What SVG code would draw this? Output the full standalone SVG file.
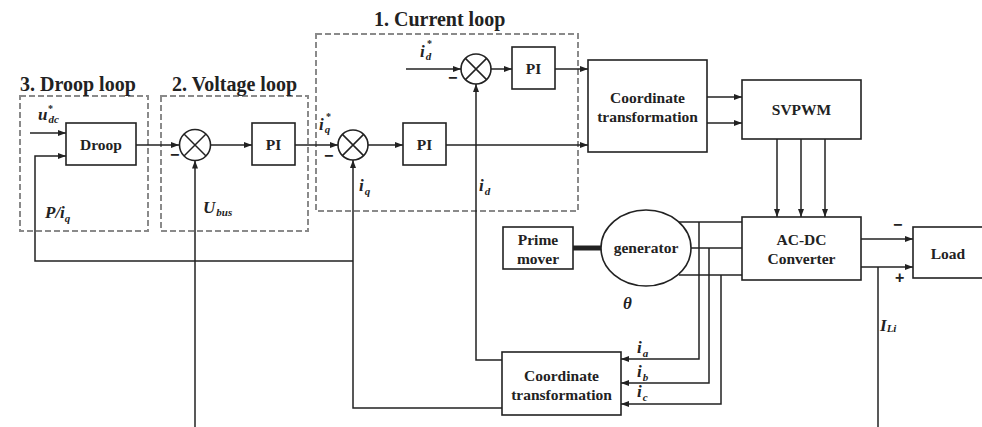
<svg xmlns="http://www.w3.org/2000/svg" width="982" height="427" viewBox="0 0 982 427">
  <defs>
    <marker id="arr" markerUnits="userSpaceOnUse" markerWidth="8" markerHeight="6" refX="8" refY="3" orient="auto">
      <path d="M0,0 L8,3 L0,6 z" fill="#222"/>
    </marker>
    <style>
      .blk { fill: #fff; stroke: #222; stroke-width: 1.6; }
      .loop { fill: none; stroke: #8a8a8a; stroke-width: 2; stroke-dasharray: 6 3; }
      .wire { fill: none; stroke: #222; stroke-width: 1.5; }
      .arw { marker-end: url(#arr); }
      .lbl { font-family: "Liberation Serif", "Times New Roman", serif; font-weight: bold; font-size: 15.5px; fill: #222; text-anchor: middle; }
      .ttl { font-family: "Liberation Serif", "Times New Roman", serif; font-weight: bold; font-size: 20px; fill: #222; }
      .m { font-family: "Liberation Serif", "Times New Roman", serif; font-weight: bold; font-style: italic; font-size: 17px; fill: #222; }
      .sub { font-size: 11px; }
      .sup { font-size: 10px; font-style: normal; }
      .sgn { font-family: "Liberation Sans", Arial, sans-serif; font-weight: bold; font-size: 16px; fill: #222; }
    </style>
  </defs>

  <!-- loop frames -->
  <g id="droop-loop">
    <rect class="loop" x="20" y="96" width="128" height="135"/>
    <text class="ttl" x="20" y="91">3. Droop loop</text>
  </g>
  <g id="voltage-loop">
    <rect class="loop" x="161" y="96" width="147" height="135"/>
    <text class="ttl" x="172" y="91">2. Voltage loop</text>
  </g>
  <g id="current-loop">
    <rect class="loop" x="316" y="34" width="262" height="177"/>
    <text class="ttl" x="374" y="26">1. Current loop</text>
  </g>

  <!-- connectors -->
  <g id="connectors">
    <path class="wire arw" d="M30,133 H66"/>
    <path class="wire arw" d="M353,261 H35 V156 H66"/>
    <path class="wire arw" d="M136,145 H179"/>
    <path class="wire arw" d="M210,145 H252"/>
    <path class="wire arw" d="M195,427 V160.5"/>
    <path class="wire arw" d="M295,145 H338"/>
    <path class="wire arw" d="M368,145 H403"/>
    <path class="wire arw" d="M446,145 H588"/>
    <path class="wire arw" d="M502,408 H353 V160"/>
    <path class="wire arw" d="M406,69 H461"/>
    <path class="wire arw" d="M491,69 H512"/>
    <path class="wire arw" d="M555,69 H588"/>
    <path class="wire arw" d="M502,360 H476 V84"/>
    <path class="wire arw" d="M707,97 H742"/>
    <path class="wire arw" d="M707,123 H742"/>
    <path class="wire arw" d="M777,139 V217"/>
    <path class="wire arw" d="M801,139 V217"/>
    <path class="wire arw" d="M825,139 V217"/>
    <line x1="573" y1="248" x2="602" y2="248" stroke="#222" stroke-width="5"/>
    <path class="wire" d="M679,222 H742"/>
    <path class="wire" d="M691,248 H742"/>
    <path class="wire" d="M679,275 H742"/>
    <path class="wire arw" d="M699,222 V359 H621"/>
    <path class="wire arw" d="M709,248 V383 H621"/>
    <path class="wire arw" d="M721,275 V404 H621"/>
    <path class="wire arw" d="M861,239 H913"/>
    <path class="wire arw" d="M861,267 H913"/>
    <path class="wire" d="M878,267 V427"/>
  </g>

  <!-- blocks -->
  <g id="droop">
    <rect class="blk" x="66" y="123" width="70" height="42"/>
    <text class="lbl" x="101" y="150">Droop</text>
  </g>
  <g id="sum-v">
    <circle class="blk" cx="195" cy="145" r="15.5"/>
    <path class="wire" d="M184,134 L206,156 M206,134 L184,156"/>
  </g>
  <g id="pi-v">
    <rect class="blk" x="252" y="123" width="43" height="42"/>
    <text class="lbl" x="273.5" y="150">PI</text>
  </g>
  <g id="sum-q">
    <circle class="blk" cx="353" cy="145" r="15"/>
    <path class="wire" d="M342.4,134.4 L363.6,155.6 M363.6,134.4 L342.4,155.6"/>
  </g>
  <g id="pi-q">
    <rect class="blk" x="403" y="123" width="43" height="42"/>
    <text class="lbl" x="424.5" y="150">PI</text>
  </g>
  <g id="sum-d">
    <circle class="blk" cx="476" cy="69" r="15"/>
    <path class="wire" d="M465.4,58.4 L486.6,79.6 M486.6,58.4 L465.4,79.6"/>
  </g>
  <g id="pi-d">
    <rect class="blk" x="512" y="47" width="43" height="42"/>
    <text class="lbl" x="533.5" y="74">PI</text>
  </g>
  <g id="coord-upper">
    <rect class="blk" x="588" y="60" width="119" height="92"/>
    <text class="lbl" x="647.5" y="103">Coordinate</text>
    <text class="lbl" x="647.5" y="122">transformation</text>
  </g>
  <g id="svpwm">
    <rect class="blk" x="742" y="80" width="119" height="59"/>
    <text class="lbl" x="801.5" y="115">SVPWM</text>
  </g>
  <g id="prime-mover">
    <rect class="blk" x="503" y="227" width="70" height="42"/>
    <text class="lbl" x="538" y="245">Prime</text>
    <text class="lbl" x="538" y="264">mover</text>
  </g>
  <g id="generator">
    <ellipse class="blk" cx="646" cy="248" rx="45" ry="38"/>
    <text class="lbl" x="646" y="253">generator</text>
  </g>
  <g id="ac-dc">
    <rect class="blk" x="742" y="217" width="119" height="63"/>
    <text class="lbl" x="801.5" y="245">AC-DC</text>
    <text class="lbl" x="801.5" y="264">Converter</text>
  </g>
  <g id="load">
    <rect class="blk" x="913" y="227" width="75" height="51"/>
    <text class="lbl" x="948" y="259">Load</text>
  </g>
  <g id="coord-lower">
    <rect class="blk" x="502" y="352" width="119" height="63"/>
    <text class="lbl" x="561.5" y="381">Coordinate</text>
    <text class="lbl" x="561.5" y="400">transformation</text>
  </g>

  <!-- signal labels -->
  <g id="labels">
    <text class="m" x="38" y="120">u<tspan class="sub" dx="1" dy="3">dc</tspan></text>
    <text class="m sup" x="48" y="112">*</text>
    <text class="m" x="45" y="218">P/i<tspan class="sub" dy="4">q</tspan></text>
    <text class="m" x="203" y="213">U<tspan class="sub" dx="1" dy="3">bus</tspan></text>
    <text class="m" x="319" y="130">i<tspan class="sub" dx="1" dy="3">q</tspan></text>
    <text class="m sup" x="326" y="120">*</text>
    <text class="m" x="420" y="57">i<tspan class="sub" dx="1" dy="3">d</tspan></text>
    <text class="m sup" x="427" y="47">*</text>
    <text class="m" x="359" y="191">i<tspan class="sub" dx="1" dy="4">q</tspan></text>
    <text class="m" x="479" y="191">i<tspan class="sub" dx="1" dy="4">d</tspan></text>
    <text class="m" x="623" y="309">θ</text>
    <text class="m" x="637" y="353">i<tspan class="sub" dx="1" dy="4">a</tspan></text>
    <text class="m" x="637" y="377">i<tspan class="sub" dx="1" dy="4">b</tspan></text>
    <text class="m" x="637" y="397">i<tspan class="sub" dx="1" dy="4">c</tspan></text>
    <text class="m" x="880" y="331">I<tspan class="sub" dy="1">Li</tspan></text>
    <text class="sgn" x="170" y="160">−</text>
    <text class="sgn" x="324" y="161">−</text>
    <text class="sgn" x="448" y="83">−</text>
    <text class="sgn" x="893" y="230">−</text>
    <text class="sgn" x="895" y="283">+</text>
  </g>
</svg>
